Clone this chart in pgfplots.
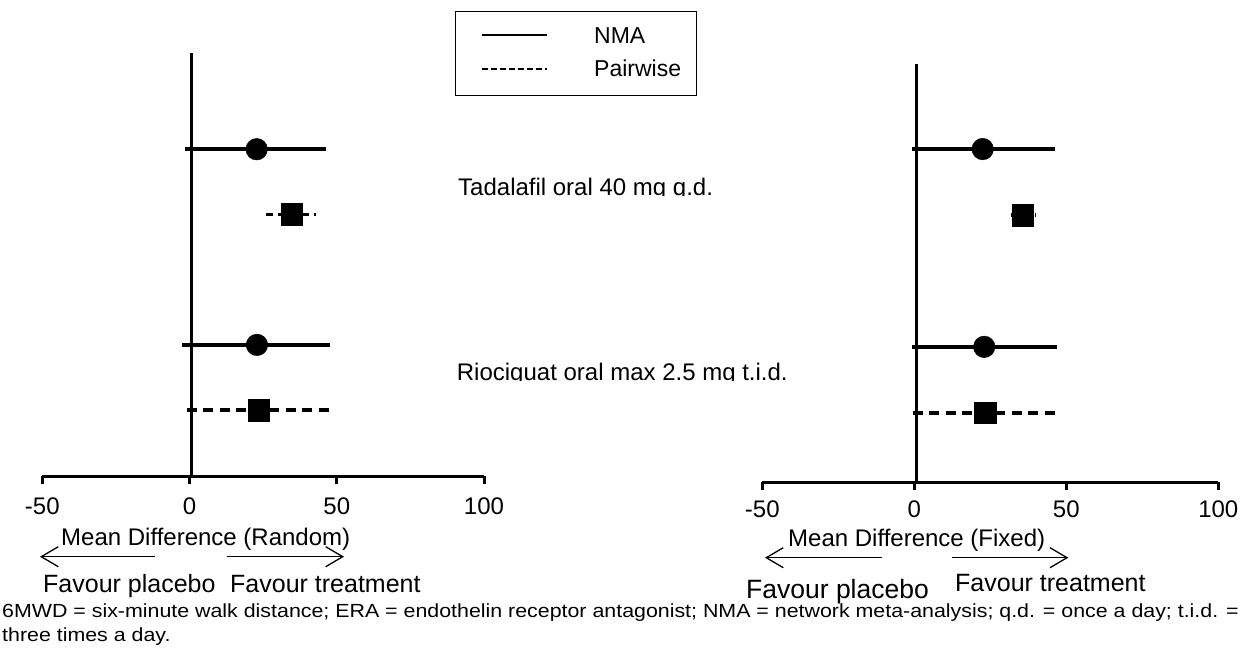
\documentclass[border=0pt]{standalone}
\usepackage{fontspec}
\setmainfont{Liberation Sans}
\usepackage{pgfplots}
\pgfplotsset{compat=1.18}
\usetikzlibrary{arrows.meta}
\pgfplotsset{fp/.style={
  scale only axis,
  axis x line=bottom, axis y line=none,
  x axis line style={-, line width=3pt},
  xmin=-50, xmax=100,
  xtick={-50,0,50,100}, xticklabels={-50,0,50,100},
  tick align=outside, major tick length=8pt,
  every tick/.style={black, line width=3pt},
  ytick=\empty,
  clip=false,
  xticklabel style={font=\fontsize{24}{28}\selectfont, anchor=base},
}}
\begin{document}
\begin{tikzpicture}
\path[use as bounding box] (0pt,0pt) rectangle (1243pt,-651pt);

% ---------- left panel (Random) ----------
\begin{axis}[fp, at={(42.3pt,-476pt)}, anchor=south west,
  width=441.7pt, height=423.3pt, ymin=-0.01, ymax=6.48,
  xticklabel style={yshift=-30pt}]
\addplot[black, line width=3pt] coordinates {(0.8,-0.01) (0.8,6.48)};
% NMA
\addplot[black, line width=3.5pt] coordinates {(-1.4,5) (46.3,5)};
\addplot[black, line width=3.5pt] coordinates {(-2.5,2) (47.6,2)};
% Pairwise
\addplot[black, line width=3.5pt, dash pattern=on 7pt off 5pt] coordinates {(26.1,4) (43.1,4)};
\addplot[black, line width=3.5pt, dash pattern=on 10pt off 6.5pt] coordinates {(-0.9,1) (48.2,1)};
\addplot[black, only marks, mark=*, mark size=10.8pt] coordinates {(22.8,5) (22.9,2)};
\addplot[black, only marks, mark=square*, mark size=10.8pt] coordinates {(34.7,4) (23.5,1)};
\end{axis}

% ---------- right panel (Fixed) ----------
\begin{axis}[fp, at={(762.3pt,-482pt)}, anchor=south west,
  width=456pt, height=418pt, ymin=-0.05, ymax=6.29,
  xticklabel style={yshift=-27pt}]
\addplot[black, line width=3pt] coordinates {(0.8,-0.05) (0.8,6.29)};
\addplot[black, line width=3.5pt] coordinates {(-0.8,5) (46.4,5)};
\addplot[black, line width=3.5pt] coordinates {(-0.8,2) (46.8,2)};
\addplot[black, line width=3.5pt, dash pattern=on 7pt off 5pt] coordinates {(31.8,4) (39.8,4)};
\addplot[black, line width=3.5pt, dash pattern=on 10pt off 6.5pt] coordinates {(-0.5,1) (47.5,1)};
\addplot[black, only marks, mark=*, mark size=10.8pt] coordinates {(22.5,5) (23.0,2)};
\addplot[black, only marks, mark=square*, mark size=10.8pt] coordinates {(35.6,4) (23.4,1)};
\end{axis}

\begin{scope}[x=1pt, y=-1pt]
% legend
\draw[line width=1pt] (455,11.7) rectangle (696.7,95);
\draw[line width=2.5pt] (481.7,35) -- (546.7,35);
\draw[line width=2pt, dash pattern=on 6pt off 3pt] (481.7,69.3) -- (546.7,69.3);
\node[anchor=base west, inner sep=0pt, font=\fontsize{23}{27}\selectfont] at (594,43.3) {NMA};
\node[anchor=base west, inner sep=0pt, font=\fontsize{23}{27}\selectfont] at (594,76.7) {Pairwise};

% treatment labels (clipped at baseline as in the original)
\begin{scope}
\clip (440,160) rectangle (880,195.5);
\node[anchor=base west, inner sep=0pt, font=\fontsize{24}{28}\selectfont] at (458,195) {Tadalafil oral 40 mg q.d.};
\end{scope}
\begin{scope}
\clip (440,345) rectangle (880,380.5);
\node[anchor=base west, inner sep=0pt, font=\fontsize{24}{28}\selectfont] at (456.7,380) {Riociguat oral max 2.5 mg t.i.d.};
\end{scope}

% left axis captions
\node[anchor=base west, inner sep=0pt, font=\fontsize{24}{28}\selectfont] at (61,545) {Mean Difference (Random)};
\draw[line width=1.3pt, -{Straight Barb[length=17pt,width=20pt]}] (155,556.7) -- (40,556.7);
\draw[line width=1.3pt, -{Straight Barb[length=17pt,width=20pt]}] (227,556.7) -- (344,556.7);
\node[anchor=base west, inner sep=0pt, font=\fontsize{25}{29}\selectfont] at (43,592.7) {Favour placebo};
\node[anchor=base west, inner sep=0pt, font=\fontsize{25}{29}\selectfont] at (230,592.7) {Favour treatment};

% right axis captions
\node[anchor=base west, inner sep=0pt, font=\fontsize{24}{28}\selectfont] at (788,546) {Mean Difference (Fixed)};
\draw[line width=1.3pt, -{Straight Barb[length=17pt,width=20pt]}] (881.7,557.7) -- (765,557.7);
\draw[line width=1.3pt, -{Straight Barb[length=17pt,width=20pt]}] (951.7,557.7) -- (1068.3,557.7);
\node[anchor=base west, inner sep=0pt, font=\fontsize{26.5}{31}\selectfont] at (746,598) {Favour placebo};
\node[anchor=base west, inner sep=0pt, font=\fontsize{25}{29}\selectfont] at (955,591.7) {Favour treatment};

% footnote
\node[anchor=base west, inner sep=0pt, font=\fontsize{19}{23}\selectfont] at (2,617) {\scalebox{1.125}[1]{6MWD = six-minute walk distance; ERA = endothelin receptor antagonist; NMA = network meta-analysis; q.d. = once a day; t.i.d. =}};
\node[anchor=base west, inner sep=0pt, font=\fontsize{19}{23}\selectfont] at (2,641) {\scalebox{1.125}[1]{three times a day.}};
\end{scope}
\end{tikzpicture}
\end{document}
